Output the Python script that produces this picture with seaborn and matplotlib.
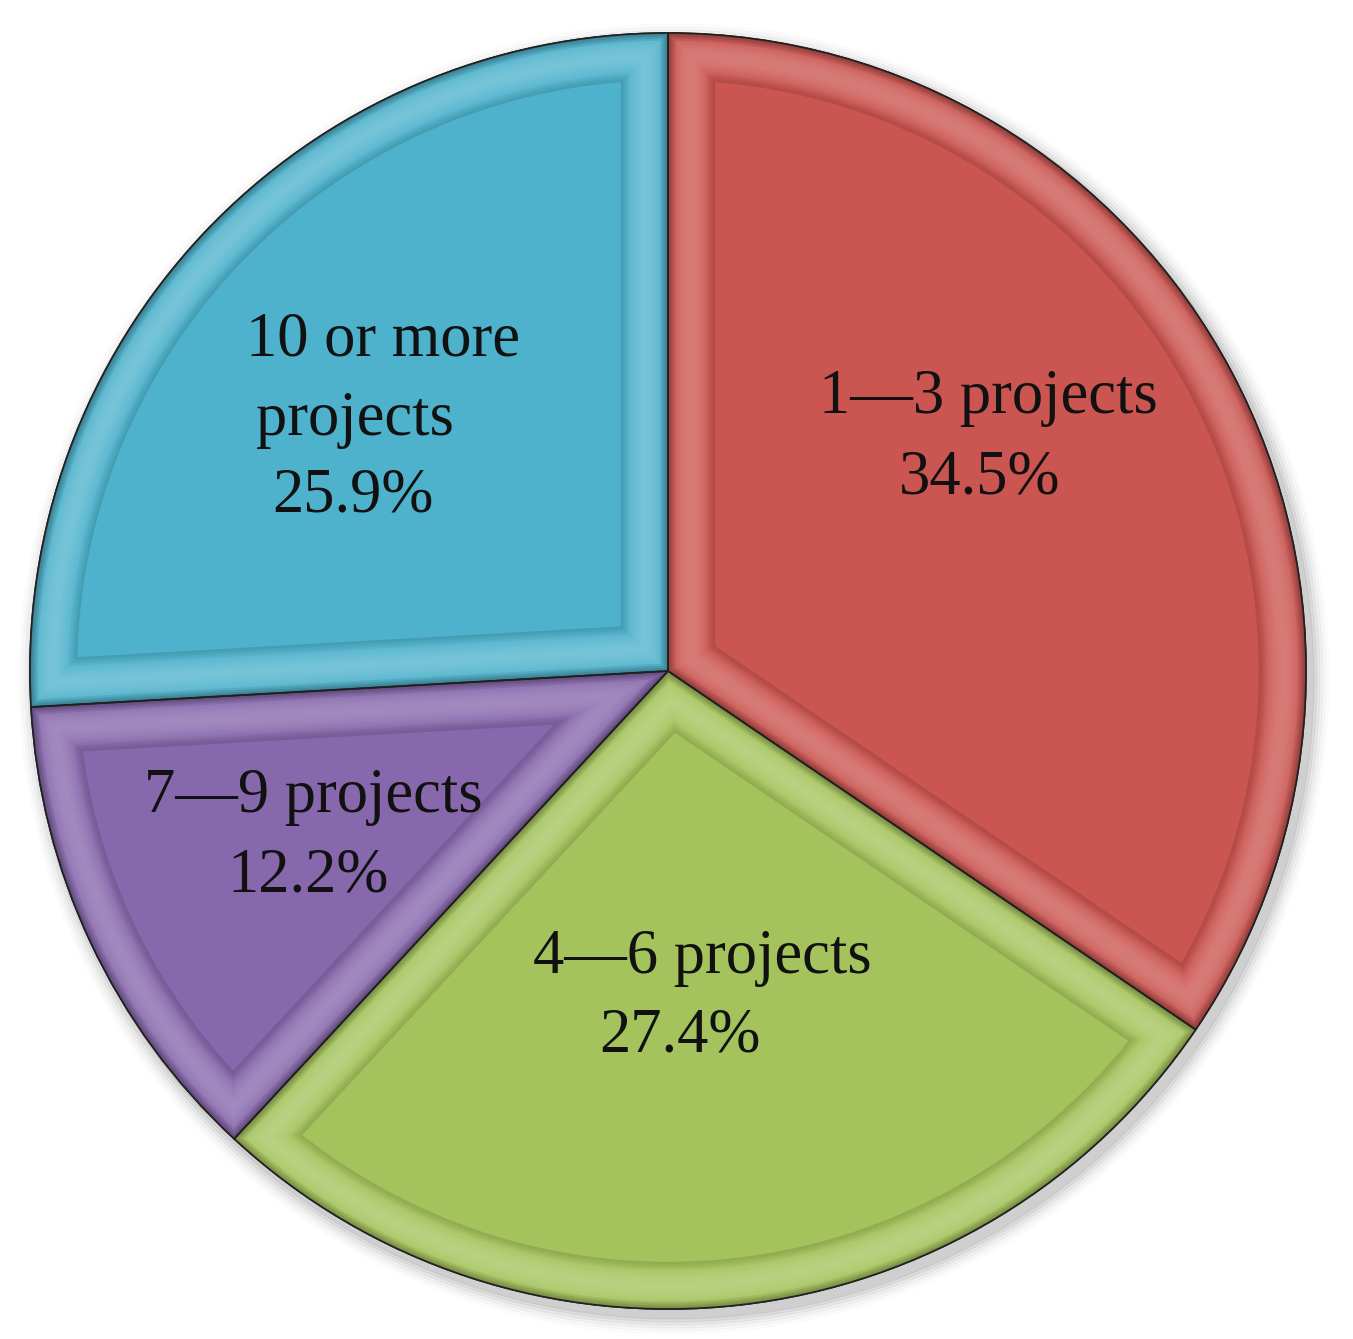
import numpy as np
import matplotlib
matplotlib.use("Agg")
import matplotlib.pyplot as plt
import matplotlib.colors as mcolors
import seaborn as sns

categories = ["1\u20143 projects", "4\u20146 projects", "7\u20149 projects", "10 or more\nprojects"]
shares = [34.5, 27.4, 12.2, 25.9]
colors = ["#CB5551", "#A5C35C", "#8768AC", "#4EB2CC"]

sns.set_theme(style="white")
plt.rcParams["font.family"] = ["Liberation Serif", "DejaVu Serif"]

W, H = 1353, 1339
fig = plt.figure(figsize=(W / 100, H / 100), dpi=100)
ax = fig.add_axes([0, 0, 1, 1])

cx, cy, R = 668, H - 671, 638

# soft shadow
for i, a in enumerate(np.linspace(0.05, 0.01, 6)):
    ax.add_patch(plt.Circle((cx + 6, cy - 8), R + 2 + i * 3, color="black", alpha=a, zorder=0))

wedges, _ = ax.pie(shares, colors=colors, startangle=90, counterclock=False,
                   center=(cx, cy), radius=R, frame=True,
                   wedgeprops=dict(edgecolor="#222222", linewidth=1.2))
ax.set_xlim(0, W)
ax.set_ylim(0, H)
ax.set_aspect("equal")
ax.axis("off")

def mix(c, t, amt):
    c = np.array(mcolors.to_rgb(c)); t = np.array(mcolors.to_rgb(t))
    return tuple(np.clip(c + (t - c) * amt, 0, 1))

# smooth bevel: strokes clipped to each wedge, from wide (inner) to narrow (edge)
B = 34
for w, c in zip(wedges, colors):
    for d in np.arange(B, 0, -1.5):
        t = (B - d) / B
        amt = 0.22 * np.sin(np.pi * t) ** 1.5
        col = mix(c, "white", amt)
        if d < 7:
            col = mix(col, "black", 0.35 * (7 - d) / 7)
        if d > B - 6:
            col = mix(col, "black", 0.12 * (d - (B - 6)) / 6)
        p = matplotlib.patches.Wedge(w.center, w.r, w.theta1, w.theta2,
                                     facecolor="none", edgecolor=col, linewidth=2 * d,
                                     zorder=3)
        ax.add_patch(p)
        p.set_clip_path(w)
    edge = matplotlib.patches.Wedge(w.center, w.r, w.theta1, w.theta2,
                                    facecolor="none", edgecolor="#202020", linewidth=1.2, zorder=4)
    ax.add_patch(edge)

label_pos = [(988, 398, 980, 478),
             (702, 958, 680, 1037),
             (313, 797, 308, 877),
             (383, 340, 353, 497)]
fs = 45
for (lab, v, (x1, y1, x2, y2)) in zip(categories, shares, label_pos):
    if "\n" in lab:
        l1, l2 = lab.split("\n")
        ax.text(x1, H - y1, l1, ha="center", va="center", fontsize=fs, color="#111111", zorder=5)
        ax.text(355, H - 420, l2, ha="center", va="center", fontsize=fs, color="#111111", zorder=5)
    else:
        ax.text(x1, H - y1, lab, ha="center", va="center", fontsize=fs, color="#111111", zorder=5)
    ax.text(x2, H - y2, f"{v}%", ha="center", va="center", fontsize=fs, color="#111111", zorder=5)

fig.savefig("out.png", dpi=100, facecolor="white")
